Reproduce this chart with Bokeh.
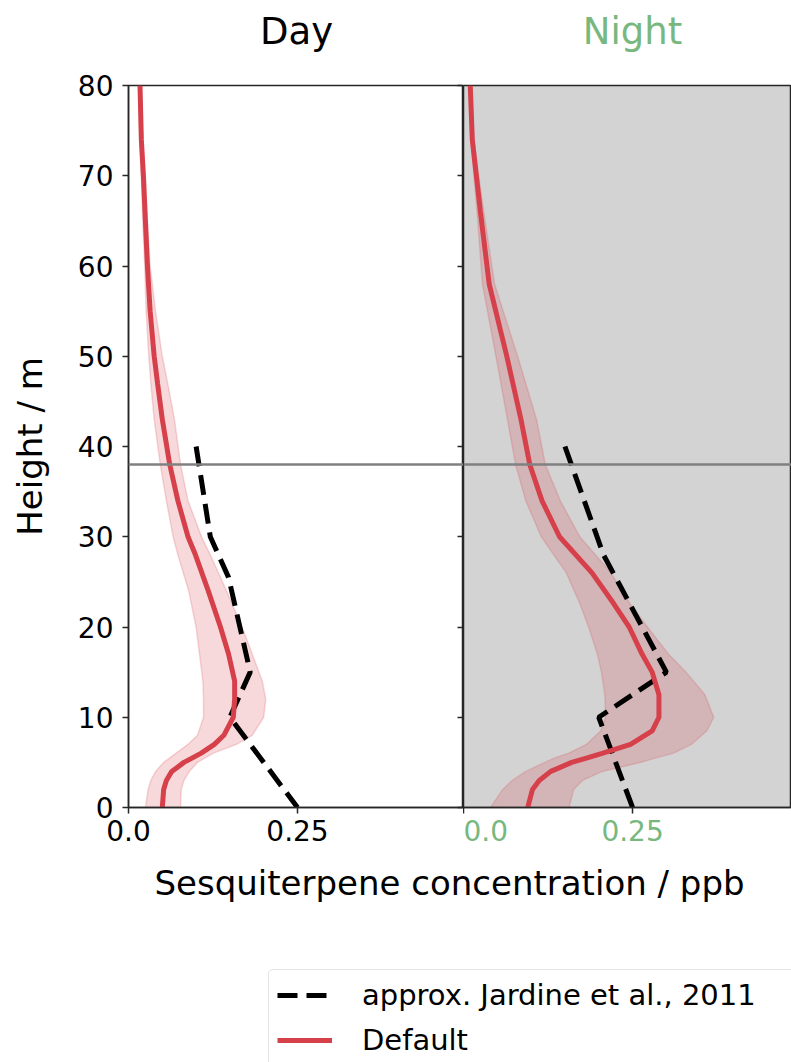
from bokeh.plotting import figure
from bokeh.models import (Range1d, FixedTicker, Span, Legend, LegendItem, Label,
                          LinearAxis, ColumnDataSource, CustomLabelingPolicy)
from bokeh.layouts import column, row
from bokeh.embed import file_html
from bokeh.resources import INLINE

# ---------------- data ----------------
ytick_vals = [0, 10, 20, 30, 40, 50, 60, 70, 80]
xtick_vals = [0.0, 0.25]
xtick_labels = ["0.0", "0.25"]
canopy_height = 38
panel_titles = ["Day", "Night"]

day_height = [0, 2, 3, 4, 5, 6, 7, 8, 10, 12, 14, 17, 20, 24, 28, 30, 34, 38, 43, 47, 50, 55, 60, 65, 70, 74, 80]
day_mean = [0.050, 0.052, 0.056, 0.064, 0.082, 0.107, 0.127, 0.141, 0.155, 0.157, 0.157, 0.148, 0.136, 0.118,
            0.099, 0.088, 0.073, 0.061, 0.050, 0.043, 0.038, 0.032, 0.028, 0.025, 0.022, 0.019, 0.017]
day_lower = [0.025, 0.029, 0.033, 0.040, 0.052, 0.070, 0.088, 0.102, 0.111, 0.111, 0.110, 0.105, 0.100, 0.089,
             0.073, 0.066, 0.056, 0.047, 0.038, 0.033, 0.030, 0.026, 0.024, 0.021, 0.019, 0.017, 0.015]
day_upper = [0.077, 0.078, 0.082, 0.090, 0.102, 0.125, 0.160, 0.183, 0.200, 0.203, 0.198, 0.183, 0.168, 0.145,
             0.121, 0.108, 0.088, 0.077, 0.068, 0.058, 0.050, 0.040, 0.032, 0.028, 0.025, 0.021, 0.019]

night_height = [0, 2, 3, 4, 5, 5.5, 6, 7, 8.5, 10, 12.5, 15, 17, 20, 22.6, 26, 30, 34, 38, 43, 50, 58, 66, 74, 80]
night_mean = [0.095, 0.102, 0.112, 0.129, 0.160, 0.183, 0.205, 0.247, 0.279, 0.289, 0.289, 0.279, 0.264,
              0.245, 0.222, 0.190, 0.142, 0.116, 0.098, 0.085, 0.064, 0.038, 0.025, 0.013, 0.010]
night_lower = [0.040, 0.058, 0.072, 0.092, 0.120, 0.135, 0.155, 0.182, 0.203, 0.210, 0.209, 0.204, 0.198,
               0.185, 0.172, 0.152, 0.115, 0.092, 0.077, 0.065, 0.048, 0.028, 0.020, 0.011, 0.008]
night_upper = [0.156, 0.163, 0.176, 0.205, 0.262, 0.285, 0.310, 0.337, 0.360, 0.370, 0.357, 0.329, 0.303,
               0.272, 0.246, 0.218, 0.172, 0.143, 0.121, 0.108, 0.080, 0.046, 0.030, 0.015, 0.012]

day_jardine_height = [40, 30, 25.5, 15, 10, 0]
day_jardine_conc = [0.100, 0.121, 0.148, 0.180, 0.150, 0.250]
night_jardine_height = [40, 28, 15, 10, 0]
night_jardine_conc = [0.150, 0.207, 0.300, 0.200, 0.250]

legend_labels = ["approx. Jardine et al., 2011", "Default"]

# ---------------- style ----------------
FONT = "DejaVu Sans"
RED = "#d6404a"
GREEN = "#78b87f"
AX = "#262626"
NIGHT_BG = "#d3d3d3"
DASH = "20 9"
W = 791


def style_panel(p, tick_color):
    p.grid.visible = False
    p.outline_line_color = AX
    p.outline_line_width = 1.5
    for ax in p.xaxis:
        ax.ticker = FixedTicker(ticks=xtick_vals)
        ax.major_label_overrides = {v: s for v, s in zip(xtick_vals, xtick_labels)}
        ax.major_tick_out = 6
        ax.major_tick_in = 0
        ax.minor_tick_line_color = None
        ax.axis_line_color = AX
        ax.axis_line_width = 1.5
        ax.major_tick_line_color = AX
        ax.major_tick_line_width = 1.5
        ax.major_label_text_font = FONT
        ax.major_label_text_font_size = "28px"
        ax.major_label_text_color = tick_color
        ax.major_label_standoff = 6


def draw(p, h, mean, lo, hi, jh, jc):
    src = ColumnDataSource(dict(h=h, mean=mean, lo=lo, hi=hi))
    p.harea(y="h", x1="lo", x2="hi", source=src, fill_color=RED, fill_alpha=0.2)
    p.line(x="lo", y="h", source=src, line_color=RED, line_alpha=0.2, line_width=1.5)
    p.line(x="hi", y="h", source=src, line_color=RED, line_alpha=0.2, line_width=1.5)
    p.add_layout(Span(location=canopy_height, dimension="width", line_color="#808080", line_width=2.5))
    p.line(x=jc, y=jh, line_color="black", line_width=5, line_dash=DASH)
    p.line(x="mean", y="h", source=src, line_color=RED, line_width=5)


def text_strip(height):
    s = figure(width=W, height=height, x_range=Range1d(0, W), y_range=Range1d(0, height),
               output_backend="svg", toolbar_location=None, title=None,
               x_axis_location=None, y_axis_location=None, min_border=0)
    s.grid.visible = False
    s.outline_line_color = None
    s.background_fill_color = "white"
    s.border_fill_color = "white"
    return s


# ---------------- titles strip ----------------
H0 = 64
p0 = text_strip(H0)
p0.add_layout(Label(x=296, y=H0 - 31, text=panel_titles[0], text_align="center",
                    text_baseline="middle", text_font=FONT, text_font_size="37px",
                    text_color="black"))
p0.add_layout(Label(x=632, y=H0 - 31, text=panel_titles[1], text_align="center",
                    text_baseline="middle", text_font=FONT, text_font_size="37px",
                    text_color=GREEN))

# ---------------- Day panel ----------------
TOP = 21
p1 = figure(width=463, height=722 + TOP + 53, x_range=Range1d(0, 0.4955), y_range=Range1d(0, 80),
            output_backend="svg", toolbar_location=None, title=None,
            min_border_left=128, min_border_right=0, min_border_top=TOP, min_border_bottom=53)
p1.background_fill_color = "white"
p1.border_fill_color = "white"
style_panel(p1, "black")
ya = p1.yaxis[0]
ya.ticker = FixedTicker(ticks=ytick_vals)
ya.major_tick_out = 6
ya.major_tick_in = 0
ya.minor_tick_line_color = None
ya.axis_line_color = AX
ya.axis_line_width = 1.5
ya.major_tick_line_color = AX
ya.major_tick_line_width = 1.5
ya.major_label_text_font = FONT
ya.major_label_text_font_size = "28px"
ya.major_label_text_color = "black"
ya.major_label_standoff = 9
ya.axis_label = "Height / m"
ya.axis_label_text_font = FONT
ya.axis_label_text_font_size = "34px"
ya.axis_label_text_font_style = "normal"
ya.axis_label_text_color = "black"
ya.axis_label_standoff = 25

hide_all = CustomLabelingPolicy(code="""
const all = [...indices]
for (const i of all) indices.unset(i)
""")
right_ax = LinearAxis(ticker=FixedTicker(ticks=ytick_vals), major_tick_in=6, major_tick_out=0,
                      major_label_text_font_size="0px", major_label_standoff=0,
                      major_label_policy=hide_all,
                      minor_tick_line_color=None, axis_line_color=AX, axis_line_width=1.5,
                      major_tick_line_color=AX, major_tick_line_width=1.5)
p1.add_layout(right_ax, "right")

draw(p1, day_height, day_mean, day_lower, day_upper, day_jardine_height, day_jardine_conc)

# ---------------- Night panel ----------------
p2 = figure(width=328, height=722 + TOP + 53, x_range=Range1d(0, 0.485), y_range=Range1d(0, 80),
            output_backend="svg", toolbar_location=None, y_axis_location=None, title=None,
            min_border_left=0, min_border_right=0, min_border_top=TOP, min_border_bottom=53)
p2.background_fill_color = NIGHT_BG
p2.border_fill_color = "white"
style_panel(p2, GREEN)

draw(p2, night_height, night_mean, night_lower, night_upper, night_jardine_height, night_jardine_conc)

# ---------------- x label + legend ----------------
H3 = 202
p3 = text_strip(H3)
p3.add_layout(Label(x=449, y=H3 - 22, text="Sesquiterpene concentration / ppb",
                    text_align="center", text_baseline="middle", text_font=FONT,
                    text_font_size="34px", text_color="black"))

# legend proxies drawn outside the visible range of the label panel
r_dash = p3.line(x=[-50, -40], y=[-50, -40], line_color="black", line_width=5, line_dash=DASH)
r_red = p3.line(x=[-50, -40], y=[-50, -40], line_color=RED, line_width=5)
legend = Legend(items=[LegendItem(label=legend_labels[0], renderers=[r_dash]),
                       LegendItem(label=legend_labels[1], renderers=[r_red])],
                location=(268, -4), label_text_font=FONT, label_text_font_size="29px",
                label_text_color="black", label_width=440,
                glyph_width=55, glyph_height=34, label_height=34, label_standoff=30,
                spacing=11, padding=8, border_line_color="#cccccc", border_line_width=1.5,
                border_radius=5, margin=0, background_fill_color="white", background_fill_alpha=1)
p3.add_layout(legend)

layout = column(p0, row(p1, p2), p3)
open("out.html", "w").write(file_html(layout, INLINE))
